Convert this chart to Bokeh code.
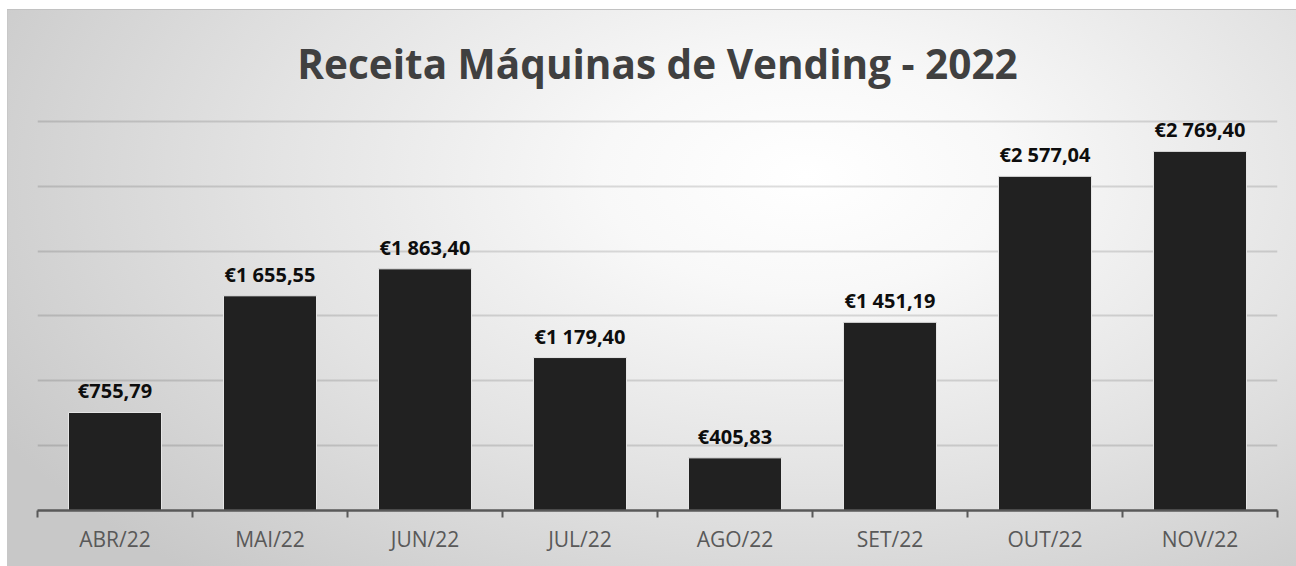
from bokeh.plotting import figure
from bokeh.models import Range1d, FixedTicker, InlineStyleSheet
from bokeh.embed import file_html
from bokeh.resources import INLINE
from bokeh.core.properties import value

# ---- data ----
months = ["ABR/22", "MAI/22", "JUN/22", "JUL/22", "AGO/22", "SET/22", "OUT/22", "NOV/22"]
revenue = [755.79, 1655.55, 1863.40, 1179.40, 405.83, 1451.19, 2577.04, 2769.40]
grid_values = [500, 1000, 1500, 2000, 2500, 3000]
title_text = "Receita Máquinas de Vending - 2022"


def fmt_eur(v):
    s = f"{v:,.2f}"
    ip, dp = s.split(".")
    return "€" + ip.replace(",", " ") + "," + dp


labels = [fmt_eur(v) for v in revenue]
xpos = [i + 0.5 for i in range(len(months))]
bounds = list(range(len(months) + 1))

FONT = "Open Sans"

bg_css = InlineStyleSheet(css="""
:host {
  background-color: #ffffff;
  background-image:
    linear-gradient(#c2c2c2, #c2c2c2),
    linear-gradient(#c8c8c8, #c8c8c8),
    radial-gradient(ellipse 72% 95% at 62% 30%, #ffffff 0%, #f8f8f8 22%, #e3e3e3 58%, #c8c8c8 100%);
  background-position: 7px 9px, 7px 9px, 7px 9px;
  background-size: 100% 1px, 1px 100%, calc(100% - 7px) calc(100% - 9px);
  background-repeat: no-repeat;
}
""")

p = figure(width=1296, height=566,
           x_range=Range1d(0, len(months)), y_range=Range1d(0, 3046),
           output_backend="svg", toolbar_location=None,
           y_axis_location=None,
           min_border_left=37, min_border_right=19,
           min_border_top=115, min_border_bottom=56,
           stylesheets=[bg_css])

p.background_fill_color = None
p.border_fill_color = None
p.outline_line_color = None

p.title.text = title_text
p.title.align = "center"
p.title.text_font = FONT
p.title.text_font_size = "40.5px"
p.title.text_font_style = "bold"
p.title.text_color = "#404040"
p.title.standoff = 50

p.xgrid.visible = False
p.ygrid.ticker = FixedTicker(ticks=grid_values)
p.ygrid.grid_line_color = "black"
p.ygrid.grid_line_alpha = 0.13
p.ygrid.grid_line_width = 2

p.vbar(x=xpos, top=revenue, width=0.6, fill_color="#212121",
       line_color="#e6e6e6", line_width=1)

p.text(x=xpos, y=revenue, text=labels, text_align="center", text_baseline="bottom",
       y_offset=-8, text_font=value(FONT), text_font_style="bold",
       text_font_size="20px", text_color="#0d0d0d")

ax = p.xaxis[0]
ax.ticker = FixedTicker(ticks=xpos, minor_ticks=bounds)
ax.major_label_overrides = {x: m for x, m in zip(xpos, months)}
ax.axis_line_color = "#595959"
ax.axis_line_width = 2.5
ax.major_tick_line_color = None
ax.minor_tick_line_color = "#595959"
ax.minor_tick_line_width = 2
ax.minor_tick_in = 0
ax.minor_tick_out = 7
ax.major_label_text_font = FONT
ax.major_label_text_font_size = "21px"
ax.major_label_text_color = "#595959"
ax.major_label_standoff = 7

open("out.html", "w").write(file_html(p, INLINE))
